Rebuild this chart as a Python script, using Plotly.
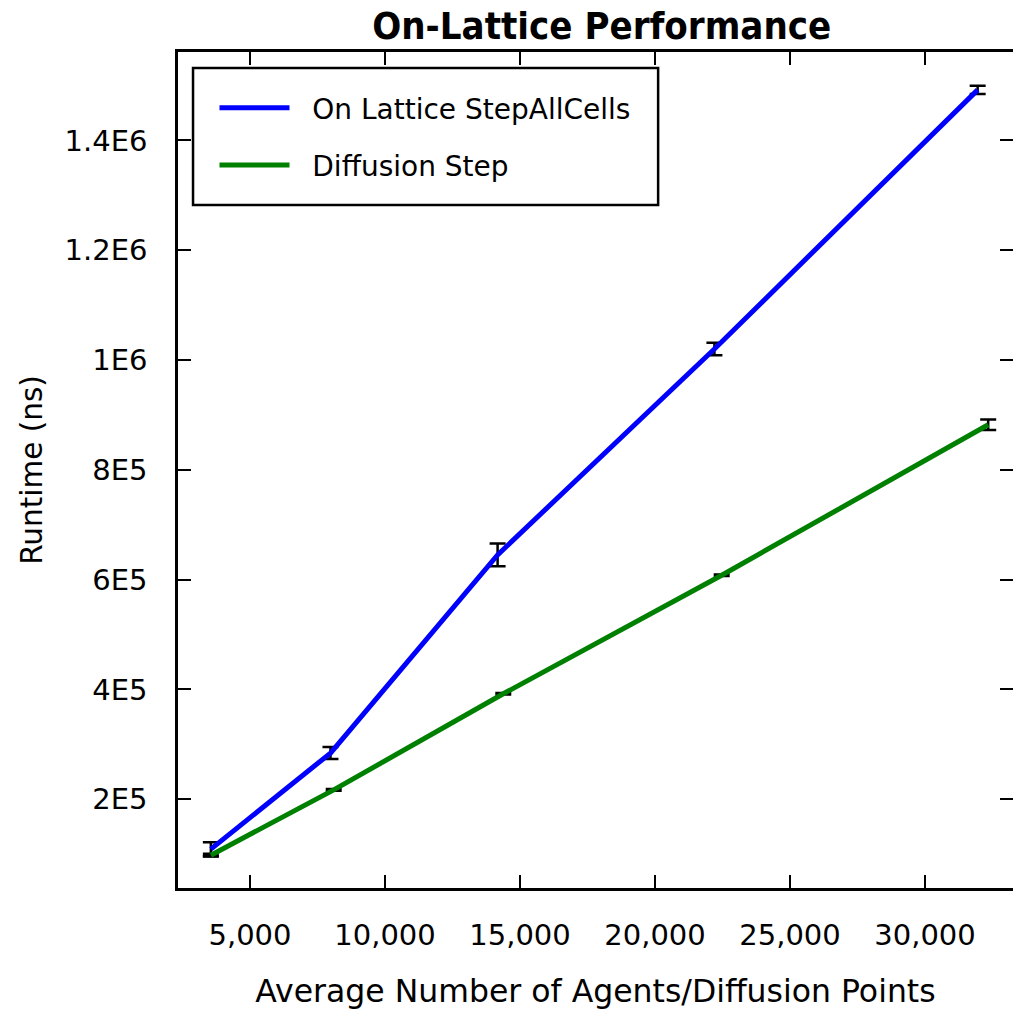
import plotly.graph_objects as go

# Benchmark results: mean runtime (ns) and error for each problem size
agents_lattice = [3550, 7980, 14170, 22200, 31950]
runtime_lattice = [109000, 284000, 645000, 1020000, 1492000]
error_lattice = [12700, 11000, 20600, 11300, 7600]

points_diffusion = [3550, 8100, 14380, 22470, 32340]
runtime_diffusion = [98000, 217000, 392000, 608000, 882000]
error_diffusion = [2500, 1500, 1500, 1500, 9700]

series_names = ["On Lattice StepAllCells", "Diffusion Step"]

x_tick_values = [5000, 10000, 15000, 20000, 25000, 30000]
x_tick_labels = ["5,000", "10,000", "15,000", "20,000", "25,000", "30,000"]
y_tick_values = [200000, 400000, 600000, 800000, 1000000, 1200000, 1400000]
y_tick_labels = ["2E5", "4E5", "6E5", "8E5", "1E6", "1.2E6", "1.4E6"]

X_RANGE = [2333, 33259]
Y_RANGE = [38250, 1561000]

TICK_FONT = dict(family="DejaVu Sans", size=29, color="black")
TITLE_FONT = dict(family="DejaVu Sans Condensed, Roboto Condensed, Roboto, sans-serif",
                  size=38, color="black")

TICKS = dict(ticks="inside", ticklen=13, tickwidth=1.5, tickcolor="black",
             showgrid=False, zeroline=False)

# small gap between the legend sample line and its label
LEGEND_PAD = "\u00a0\u00a0"

fig = go.Figure()

fig.add_trace(go.Scatter(
    x=agents_lattice, y=runtime_lattice, name=LEGEND_PAD + series_names[0],
    mode="lines", line=dict(color="#0000FF", width=5),
    error_y=dict(type="data", array=error_lattice, visible=True,
                 color="black", thickness=2.5, width=8),
    legendgroup="a",
))
fig.add_trace(go.Scatter(
    x=points_diffusion, y=runtime_diffusion, name=LEGEND_PAD + series_names[1],
    mode="lines", line=dict(color="#008000", width=5),
    error_y=dict(type="data", array=error_diffusion, visible=True,
                 color="black", thickness=2.5, width=8),
    legendgroup="b",
))
# empty trace that carries the top and right-hand tick axes
fig.add_trace(go.Scatter(x=[], y=[], xaxis="x2", yaxis="y2",
                         showlegend=False, hoverinfo="skip"))

fig.update_layout(
    width=1013, height=1009,
    margin=dict(l=178, r=0, t=52, b=121),
    paper_bgcolor="white", plot_bgcolor="white",
    title=dict(text="<b>On-Lattice Performance</b>", font=TITLE_FONT,
               x=0.594, xref="container", xanchor="center",
               y=0.975, yref="container", yanchor="middle"),
    xaxis=dict(range=X_RANGE, tickvals=x_tick_values, ticktext=x_tick_labels,
               showline=True, linecolor="black", linewidth=2.5, mirror=True,
               tickfont=TICK_FONT, ticklabelstandoff=19,
               title=dict(text="Average Number of Agents/Diffusion Points",
                          font=dict(family="DejaVu Sans", size=31.5, color="black"),
                          standoff=30), **TICKS),
    xaxis2=dict(range=X_RANGE, tickvals=x_tick_values, overlaying="x", side="top",
                showticklabels=False, showline=False, **TICKS),
    yaxis=dict(range=Y_RANGE, tickvals=y_tick_values, ticktext=y_tick_labels,
               showline=True, linecolor="black", linewidth=2.5, mirror=False,
               tickfont=TICK_FONT, ticklabelstandoff=22,
               title=dict(text="Runtime (ns)",
                          font=dict(family="DejaVu Sans", size=29.5, color="black"),
                          standoff=14),
               **TICKS),
    yaxis2=dict(range=Y_RANGE, tickvals=y_tick_values, overlaying="y", side="right",
                showticklabels=False, showline=False, **TICKS),
    showlegend=True,
    legend=dict(x=0.0437, y=0.963, xanchor="left", yanchor="top",
                bgcolor="rgba(0,0,0,0)", borderwidth=0,
                font=dict(family="DejaVu Sans", size=28, color="black"),
                itemwidth=70, tracegroupgap=18, traceorder="grouped"),
    shapes=[dict(type="rect", xref="paper", yref="paper",
                 x0=0.018, x1=0.575, y0=0.817, y1=0.981,
                 line=dict(color="black", width=2.5), fillcolor="white", layer="above")],
)

fig.write_html("out.html")
